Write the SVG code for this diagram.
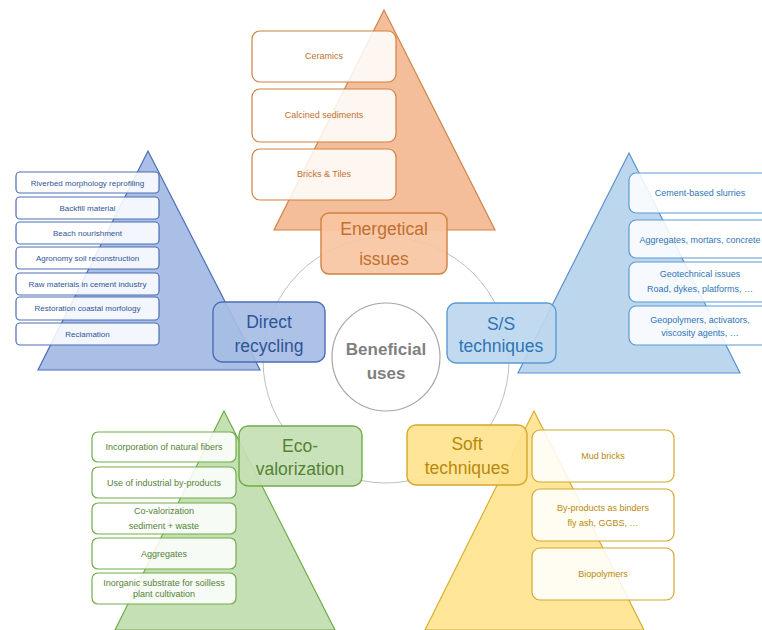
<svg xmlns="http://www.w3.org/2000/svg" width="762" height="630" viewBox="0 0 762 630">
<style>
text{font-family:"Liberation Sans",Arial,sans-serif;text-anchor:middle}
.sm{font-size:9px}
.xs{font-size:8px}
.lb{font-size:17.5px}
.item{fill:#fff;fill-opacity:0.86;stroke-width:1.2}
.lbl{stroke-width:1.4;fill-opacity:0.92}
.or .tri{fill:#F5BE9A;stroke:#CF8447;stroke-width:1.2}
.or .item,.or .lbl{stroke:#D0803F}
.or .lbl{fill:#F8C6A2}
.or text{fill:#C0702F}
.bl .tri{fill:#AABFE5;stroke:#4A6FB8;stroke-width:1.2}
.bl .item,.bl .lbl{stroke:#4A6EB5}
.bl .lbl{fill:#A6BDE4}
.bl text{fill:#2F5597}
.lb2 .tri{fill:#BCD6EE;stroke:#5B93CF;stroke-width:1.2}
.lb2 .item,.lb2 .lbl{stroke:#5B9BD5}
.lb2 .lbl{fill:#BDD7EE}
.lb2 text{fill:#2E75B6}
.gr .tri{fill:#C5E0B4;stroke:#70AD47;stroke-width:1.2}
.gr .item,.gr .lbl{stroke:#70AD47}
.gr .lbl{fill:#C5E0B4}
.gr text{fill:#548235}
.ye .tri{fill:#FFE699;stroke:#D9AE2E;stroke-width:1.2}
.ye .item,.ye .lbl{stroke:#D4A82A}
.ye .lbl{fill:#FFE38F}
.ye text{fill:#B8890A}
</style>
<rect width="762" height="630" fill="#fff"/>

<g id="connectors">
<circle cx="386" cy="360" r="123" fill="none" stroke="#BFBFBF" stroke-width="1"/>
</g>

<g id="energetical" class="or">
<polygon class="tri" points="384,10 274,230 495,230"/>
<rect class="item" x="252" y="31" width="144" height="51" rx="8"/>
<text class="sm" x="324" y="59">Ceramics</text>
<rect class="item" x="252" y="89" width="144" height="53" rx="8"/>
<text class="sm" x="324" y="118">Calcined sediments</text>
<rect class="item" x="252" y="149" width="144" height="51" rx="8"/>
<text class="sm" x="324" y="177">Bricks &amp; Tiles</text>
<rect class="lbl" x="321" y="213" width="126" height="61" rx="8"/>
<text class="lb" x="384" y="235">Energetical</text>
<text class="lb" x="384" y="265">issues</text>
</g>

<g id="direct" class="bl">
<polygon class="tri" points="148,151 38,370 260,370"/>
<rect class="item" x="16" y="172" width="143" height="21" rx="4"/>
<text class="xs" x="87.5" y="185.5">Riverbed morphology reprofiling</text>
<rect class="item" x="16" y="197" width="143" height="22" rx="4"/>
<text class="xs" x="87.5" y="210.8">Backfill material</text>
<rect class="item" x="16" y="222" width="143" height="22" rx="4"/>
<text class="xs" x="87.5" y="235.8">Beach nourishment</text>
<rect class="item" x="16" y="247" width="143" height="22" rx="4"/>
<text class="xs" x="87.5" y="260.8">Agronomy soil reconstruction</text>
<rect class="item" x="16" y="273" width="143" height="22" rx="4"/>
<text class="xs" x="87.5" y="286.8">Raw materials in cement industry</text>
<rect class="item" x="16" y="297" width="143" height="23" rx="4"/>
<text class="xs" x="87.5" y="311.3">Restoration coastal morfology</text>
<rect class="item" x="16" y="323" width="143" height="22" rx="4"/>
<text class="xs" x="87.5" y="336.8">Reclamation</text>
<rect class="lbl" x="213" y="302" width="112" height="60" rx="9"/>
<text class="lb" x="269" y="328">Direct</text>
<text class="lb" x="269" y="352">recycling</text>
</g>

<g id="ss" class="lb2">
<polygon class="tri" points="629,153 518,373 740,373"/>
<rect class="item" x="629" y="173" width="142" height="40" rx="7"/>
<text class="sm" x="700" y="196">Cement-based slurries</text>
<rect class="item" x="629" y="220" width="142" height="38" rx="7"/>
<text class="sm" x="700" y="242.5">Aggregates, mortars, concrete</text>
<rect class="item" x="629" y="262" width="142" height="40" rx="7"/>
<text class="sm" x="700" y="276.5">Geotechnical issues</text>
<text class="sm" x="700" y="291.5">Road, dykes, platforms, …</text>
<rect class="item" x="629" y="306" width="142" height="39" rx="7"/>
<text class="sm" x="700" y="323">Geopolymers, activators,</text>
<text class="sm" x="700" y="335.5">viscosity agents, …</text>
<rect class="lbl" x="447" y="303" width="109" height="60" rx="9"/>
<text class="lb" x="501" y="330">S/S</text>
<text class="lb" x="501" y="352">techniques</text>
</g>

<g id="eco" class="gr">
<polygon class="tri" points="224,411 115,630 335,630"/>
<rect class="item" x="92" y="432" width="144" height="30" rx="6"/>
<text class="sm" x="164" y="450">Incorporation of natural fibers</text>
<rect class="item" x="92" y="467" width="144" height="31" rx="6"/>
<text class="sm" x="164" y="485.5">Use of industrial by-products</text>
<rect class="item" x="92" y="503" width="144" height="31" rx="6"/>
<text class="sm" x="164" y="513.5">Co-valorization</text>
<text class="sm" x="164" y="528.5">sediment + waste</text>
<rect class="item" x="92" y="538" width="144" height="31" rx="6"/>
<text class="sm" x="164" y="557">Aggregates</text>
<rect class="item" x="92" y="573" width="144" height="31" rx="6"/>
<text class="sm" x="164" y="585.5">Inorganic substrate for soilless</text>
<text class="sm" x="164" y="597">plant cultivation</text>
<rect class="lbl" x="239" y="426" width="123" height="60" rx="9"/>
<text class="lb" x="300" y="452">Eco-</text>
<text class="lb" x="300" y="475">valorization</text>
</g>

<g id="soft" class="ye">
<polygon class="tri" points="534,411 425,630 644,630"/>
<rect class="item" x="532" y="430" width="142" height="52" rx="8"/>
<text class="sm" x="603" y="459">Mud bricks</text>
<rect class="item" x="532" y="489" width="142" height="52" rx="8"/>
<text class="sm" x="603" y="510.5">By-products as binders</text>
<text class="sm" x="603" y="526">fly ash, GGBS, …</text>
<rect class="item" x="532" y="548" width="142" height="52" rx="8"/>
<text class="sm" x="603" y="577">Biopolymers</text>
<rect class="lbl" x="407" y="425" width="120" height="60" rx="9"/>
<text class="lb" x="467" y="450">Soft</text>
<text class="lb" x="467" y="474">techniques</text>
</g>

<g id="beneficial">
<circle cx="386" cy="357" r="54" fill="#fff" stroke="#A6A6A6" stroke-width="1.2"/>
<text x="386" y="355" font-size="17px" font-weight="bold" fill="#7F7F7F">Beneficial</text>
<text x="386" y="379" font-size="17px" font-weight="bold" fill="#7F7F7F">uses</text>
</g>
</svg>
